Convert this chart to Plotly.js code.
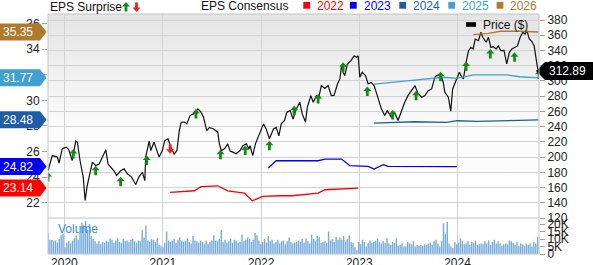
<!DOCTYPE html>
<html><head><meta charset="utf-8">
<script src="https://cdn.plot.ly/plotly-3.0.1.min.js"></script>
<style>html,body{margin:0;padding:0;background:#fff;}#chart{width:593px;height:265px;}</style>
</head><body><div id="chart"></div>
<script>
const priceDates = ["2019-11-01","2019-11-17","2019-12-06","2019-12-12","2019-12-24","2020-01-09","2020-01-18","2020-01-30","2020-02-12","2020-02-18",
"2020-02-28","2020-03-11","2020-03-18","2020-03-26","2020-04-14","2020-04-26","2020-05-09","2020-06-03","2020-06-11","2020-07-03",
"2020-07-13","2020-07-28","2020-08-10","2020-08-22","2020-09-06","2020-09-22","2020-10-04","2020-10-17","2020-10-26","2020-10-29",
"2020-11-11","2020-11-17","2020-11-29","2020-12-18","2020-12-30","2021-01-08","2021-01-20","2021-01-31","2021-02-12","2021-02-22",
"2021-03-03","2021-03-10","2021-03-22","2021-03-31","2021-04-12","2021-04-25","2021-05-11","2021-05-23","2021-06-01","2021-06-13",
"2021-06-23","2021-07-08","2021-07-24","2021-07-30","2021-08-06","2021-08-18","2021-08-30","2021-09-08","2021-09-18","2021-09-30",
"2021-10-15","2021-10-25","2021-11-07","2021-11-17","2021-11-21","2021-12-01","2021-12-11","2021-12-26","2022-01-10","2022-01-20",
"2022-02-01","2022-02-16","2022-02-26","2022-03-08","2022-03-17","2022-03-29","2022-04-07","2022-04-19","2022-04-30","2022-05-12",
"2022-05-25","2022-06-03","2022-06-15","2022-06-22","2022-07-05","2022-07-14","2022-07-26","2022-08-05","2022-08-13","2022-08-26",
"2022-09-07","2022-09-19","2022-09-29","2022-10-12","2022-10-21","2022-10-27","2022-11-02","2022-11-08","2022-11-18","2022-12-01",
"2022-12-13","2022-12-22","2022-12-28","2023-01-03","2023-01-12","2023-01-24","2023-02-03","2023-02-14","2023-02-25","2023-03-09",
"2023-03-24","2023-04-06","2023-04-15","2023-04-30","2023-05-12","2023-05-25","2023-06-06","2023-06-19","2023-07-01","2023-07-13",
"2023-07-27","2023-08-08","2023-08-21","2023-09-02","2023-09-14","2023-09-27","2023-10-09","2023-10-15","2023-10-30","2023-11-09",
"2023-11-15","2023-11-28","2023-12-07","2023-12-14","2023-12-23","2023-12-30","2024-01-08","2024-01-17","2024-01-23","2024-02-02",
"2024-02-11","2024-02-20","2024-02-28","2024-03-07","2024-03-19","2024-03-28","2024-04-04","2024-04-17","2024-04-25","2024-05-04",
"2024-05-13","2024-05-24","2024-06-01","2024-06-10","2024-06-22","2024-07-02","2024-07-12","2024-07-21","2024-08-02","2024-08-11",
"2024-08-21","2024-08-31","2024-09-08","2024-09-15","2024-09-24","2024-10-03","2024-10-12","2024-10-19","2024-10-25","2024-10-30"];
const priceValues = [182,202,200,192,211,213,209,195.5,221,219.6,
195.5,173.7,143,162.7,193.4,189,191,209.5,191,182,
175.8,182,184.6,178,174,164,174,180,169,200,
221,208.6,219.6,200,208.6,221.7,224,213,204,208.6,
234.8,245.8,246,243.6,254.5,256.7,263.3,259,252.4,234.8,
239,237,232.7,217.4,208.6,210.8,217.4,207.8,206.5,204.3,
208.6,215,217.4,210.8,215,202,217.4,230.5,243.6,237,
224,237,239,228,243.6,248,259,261,250,263.3,
272,256.7,246,265.5,280.7,272,280.7,281,293.8,290,
293.8,280.7,281,296,302.6,320,311.4,307,322.3,326.6,
333,331,333,305,311.4,307,296,298,293.8,280.7,
263.3,254.5,261,252.4,259,248,261,272,280.7,287.3,
293.8,283,278.6,280.7,287.3,289.5,304.9,307,309,298.3,
285,278.6,260.3,289.5,298.3,305,311.4,305,302.6,324.5,
339.7,344,342,355,352.8,363.9,357.3,350.8,357.3,344,
345,342,346,339.7,340,322.3,337.6,342,344,346,
357.3,363.9,361.6,366,355,352,346,331,316,312.89];
const lastPrice = 312.89;

const eps2022Dates = ["2021-01-28","2021-04-28","2021-05-23","2021-07-24","2021-08-30","2021-10-31","2021-11-29","2022-01-08","2022-03-10","2022-04-26","2022-08-01","2022-08-26","2022-12-28"];
const eps2022 = [22.81,22.93,23.25,23.32,22.93,22.75,22.15,22.49,22.54,22.54,22.75,23.01,23.14];
const eps2023Dates = ["2022-01-28","2022-02-26","2022-08-01","2022-08-26","2022-10-27","2022-11-27","2023-02-03","2023-02-25","2023-03-31","2023-04-18","2023-12-30"];
const eps2023 = [24.71,25.28,25.28,25.41,25.41,24.89,24.84,24.63,24.97,24.84,24.82];
const eps2024Dates = ["2023-02-25","2023-07-25","2023-11-22","2023-12-30","2024-03-13","2024-10-28"];
const eps2024 = [28.23,28.33,28.28,28.41,28.36,28.48];
const eps2025Dates = ["2023-02-25","2023-05-12","2023-07-25","2023-11-09","2023-12-30","2024-02-29","2024-07-02","2024-08-21","2024-10-28"];
const eps2025 = [31.28,31.46,31.59,31.81,31.73,31.99,31.99,31.85,31.77];
const eps2026Dates = ["2024-02-29","2024-04-25","2024-06-08","2024-08-21","2024-10-28"];
const eps2026 = [35.14,35.25,35.41,35.41,35.35];

const epsYears = ["2022","2023","2024","2025","2026"];
const epsFlagValues = [23.14,24.82,28.48,31.77,35.35];

const surpriseDates = ["2019-11-01","2020-02-03","2020-04-26","2020-07-28","2020-11-02","2021-01-28","2021-05-04","2021-08-03","2021-11-03","2022-02-01","2022-05-04","2022-08-01","2022-11-02","2023-01-31","2023-05-05","2023-07-31","2023-10-30","2024-02-02","2024-05-02","2024-07-31","2024-10-30"];
const surpriseY = [174,204,182,167.5,195.5,211,256.7,203,208.6,215,261,276.4,318,286,255.4,280.7,305.6,318.8,335.4,331,308];
const surpriseDir = ["up","up","up","up","up","down","up","up","up","up","up","up","up","up","up","up","up","up","up","up","up"];

const volumeStart = "2019-11-01";
const volumeK = [13.8,9.5,9.3,8.5,9.0,7.5,10,12.5,13.5,
4.5,7.5,8.5,7.0, 9,10.5,12.5,9.5, 14,21,19,22, 16,20,12,10,8.5, 7,8.5,6.5,8, 7.5,9,8,10.5,
9.5,7.5,9,10.5,8, 7.5,10,8.5,9, 8,9.5,10,8.5, 7.5,9,8.5,16,11, 19,9,8,10, 9.5,8,10.5,6,5.5,
4.5,7.5,15,9,8, 9,10,7.5,9.5, 11,8.5,8,9, 10.5,8,7,12,9, 8.5,7.5,9,8, 7,9,6.5,8,
9,12.5,9,8.5,10, 16,8,9.5,7.5, 8.5,10,7.5,9.5, 9,7.5,8,13,8.5, 9.5,11,10,8, 9.5,14,12.5,9,
6.5,8,10,7.5, 12,8.5,9.5,7, 8,9.5,7,8.5,9, 6.5,8.5,11,8, 7,7.5,8,9, 8,10,7.5,10.5,8.5,
7,13,10,8.5, 12,11.5,7.5,8, 8.5,7.5,15,9,10, 8,11.5,9.5,11, 9.5,12,8.5,10, 12.5,8,7.5,4.5,2.5,
8,6.5,9.5,8, 5,7.5,9,7.5, 8,9,10.5,8,7, 8.5,7.5,10.5,7, 6,8,7.5,10.5, 5.5,6,7,5,5,
8,7,6.5,8.5, 5,6,5.5,6, 5.5,6.5,6,7,7.5, 6,8.5,9.5,7, 5,8.5,20.5,13.5, 21.5,7,5,4,8,
6.5,7.5,10.5,8.5, 6.5,7,8.5,6, 8,7.5,9,6,6.5, 7,6.5,8.5,7, 9,6,8,9.5, 7,8.5,7,5.5,6.5,
7,6.5,9,8.5,7.5, 6,8,5.5,7, 6.5,5.5,7,6,7, 5,8,7,11.5];

const yearTicks = ["2020-01-01","2021-01-01","2022-01-01","2023-01-01","2024-01-01"];
const yearLabels = ["2020","2021","2022","2023","2024"];
const volTickVals = [0,5000,10000,15000,20000];
const volTickText = ["0","5K","10K","15K","20K"];

// ---------- styling ----------
const FONT = "Liberation Sans, Arial, Helvetica, sans-serif";
const epsColors = ["#ff0000","#0000ff","#1f5ca8","#3fa0d2","#b07a2e"];
const GRID = "#d2d2d2";
const W = 491, H = 240, L = 48, T = 14, VOLFRAC = 0.15;
const px2paperX = p => (p - L) / W;
const px2paperY = p => 1 - (p - T) / H;

const volDates = [];
{
  const d0 = new Date(volumeStart + "T00:00:00Z");
  for (let i = 0; i < volumeK.length; i++) {
    const d = new Date(d0.getTime() + i * 7 * 86400000);
    volDates.push(d.toISOString().slice(0, 10));
  }
}

const traces = [];
const epsSeries = [[eps2022Dates,eps2022],[eps2023Dates,eps2023],[eps2024Dates,eps2024],[eps2025Dates,eps2025],[eps2026Dates,eps2026]];
epsSeries.forEach((s, i) => traces.push({
  x: s[0], y: s[1], type: "scatter", mode: "lines", yaxis: "y2", xaxis: "x",
  line: {color: epsColors[i], width: 1.3}, hoverinfo: "skip", showlegend: false
}));
traces.push({x: priceDates, y: priceValues, type: "scatter", mode: "lines", xaxis: "x", yaxis: "y",
  line: {color: "#111", width: 1.2}, hoverinfo: "skip", showlegend: false});
traces.push({x: volDates, y: volumeK.map(v => v * 1000), type: "bar", xaxis: "x", yaxis: "y3",
  marker: {color: "#78acdc", line: {width: 0}}, hoverinfo: "skip", showlegend: false});

const shapes = [];
const annotations = [];
const UP = "M-4,0.5L0,5L4,0.5L1.4,0.5L1.4,-4.5L-1.4,-4.5L-1.4,0.5Z";
const DOWN = "M-4,-0.5L0,-5L4,-0.5L1.4,-0.5L1.4,4.5L-1.4,4.5L-1.4,-0.5Z";

surpriseDates.forEach((d, i) => shapes.push({
  type: "path", xref: "x", yref: "y", xsizemode: "pixel", ysizemode: "pixel",
  xanchor: d, yanchor: surpriseY[i], path: surpriseDir[i] === "up" ? UP : DOWN,
  fillcolor: surpriseDir[i] === "up" ? "#138a13" : "#ff1a1a", line: {width: 0}
}));

// left EPS flags
epsFlagValues.forEach((v, i) => {
  shapes.push({type: "path", xref: "paper", yref: "y2", xsizemode: "pixel", ysizemode: "pixel",
    xanchor: 0, yanchor: v, path: "M-48,8.5L-8,8.5L-1.5,0L-8,-8.5L-48,-8.5Z",
    fillcolor: epsColors[i], line: {width: 0}});
  annotations.push({xref: "paper", yref: "y2", x: 0, y: v, xshift: -30, xanchor: "center", yanchor: "middle",
    text: v.toFixed(2), showarrow: false, font: {family: FONT, size: 12, color: "#fff"}});
});
// right price flag
shapes.push({type: "path", xref: "paper", yref: "y", xsizemode: "pixel", ysizemode: "pixel",
  xanchor: 1, yanchor: lastPrice, path: "M-3,0L6,9L60,9L60,-9L6,-9Z", fillcolor: "#000", line: {width: 0}});
annotations.push({xref: "paper", yref: "y", x: 1, y: lastPrice, xshift: 28, xanchor: "center", yanchor: "middle",
  text: lastPrice.toFixed(2), showarrow: false, font: {family: FONT, size: 12, color: "#fff"}});

// frame
shapes.push({type: "rect", xref: "paper", yref: "paper", x0: 0, x1: 1, y0: 0, y1: 1, line: {color: "#c4c4c4", width: 1}, layer: "above"});
shapes.push({type: "line", xref: "paper", yref: "paper", x0: 0, x1: 1, y0: VOLFRAC, y1: VOLFRAC, line: {color: "#c4c4c4", width: 1}, layer: "above"});

// header legend
annotations.push({xref: "paper", yref: "paper", x: px2paperX(47.5), y: px2paperY(7), xanchor: "left", yanchor: "middle",
  text: "EPS Surprise", showarrow: false, font: {family: FONT, size: 12, color: "#111"}});
shapes.push({type: "path", xref: "paper", yref: "paper", xsizemode: "pixel", ysizemode: "pixel",
  xanchor: px2paperX(126), yanchor: px2paperY(7), path: UP, fillcolor: "#138a13", line: {width: 0}});
shapes.push({type: "path", xref: "paper", yref: "paper", xsizemode: "pixel", ysizemode: "pixel",
  xanchor: px2paperX(136.5), yanchor: px2paperY(7), path: DOWN, fillcolor: "#ff1a1a", line: {width: 0}});
annotations.push({xref: "paper", yref: "paper", x: px2paperX(198.5), y: px2paperY(6), xanchor: "left", yanchor: "middle",
  text: "EPS Consensus", showarrow: false, font: {family: FONT, size: 12, color: "#111"}});
const sqX = [306.7, 353.3, 402.7, 451.7, 500];
epsYears.forEach((yr, i) => {
  shapes.push({type: "rect", xref: "paper", yref: "paper", xsizemode: "pixel", ysizemode: "pixel",
    xanchor: px2paperX(sqX[i]), yanchor: px2paperY(5.3), x0: -3.4, x1: 3.4, y0: -3.4, y1: 3.4,
    fillcolor: epsColors[i], line: {width: 0}});
  annotations.push({xref: "paper", yref: "paper", x: px2paperX(sqX[i] + 8.3), y: px2paperY(6), xanchor: "left", yanchor: "middle",
    text: yr, showarrow: false, font: {family: FONT, size: 12, color: epsColors[i]}});
});
// price legend in plot
shapes.push({type: "rect", xref: "paper", yref: "paper", xsizemode: "pixel", ysizemode: "pixel",
  xanchor: px2paperX(471), yanchor: px2paperY(24.5), x0: -5, x1: 5, y0: -2.3, y1: 2.3,
  fillcolor: "#000", line: {width: 0}});
annotations.push({xref: "paper", yref: "paper", x: px2paperX(481), y: px2paperY(25), xanchor: "left", yanchor: "middle",
  text: "Price ($)", showarrow: false, font: {family: FONT, size: 12, color: "#111"}});
annotations.push({xref: "paper", yref: "paper", x: px2paperX(56), y: px2paperY(229), xanchor: "left", yanchor: "middle",
  text: "Volume", showarrow: false, font: {family: FONT, size: 12, color: "#3d8ed6"}});

const grad = '<svg xmlns="http://www.w3.org/2000/svg" width="10" height="100" preserveAspectRatio="none">' +
  '<defs><linearGradient id="g" x1="0" y1="0" x2="0" y2="1"><stop offset="0" stop-color="#e4e4e4"/>' +
  '<stop offset="0.55" stop-color="#fbfbfb"/><stop offset="1" stop-color="#ffffff"/></linearGradient></defs>' +
  '<rect width="10" height="100" fill="url(#g)"/></svg>';

const layout = {
  width: 593, height: 265,
  margin: {l: L, r: 593 - L - W, t: T, b: 265 - T - H, pad: 0},
  paper_bgcolor: "#ffffff", plot_bgcolor: "rgba(0,0,0,0)",
  font: {family: FONT, size: 12, color: "#222"},
  showlegend: false, bargap: 0.25,
  images: [{source: "data:image/svg+xml;charset=utf-8," + encodeURIComponent(grad),
    xref: "paper", yref: "paper", x: 0, y: 1, sizex: 1, sizey: 1 - VOLFRAC,
    sizing: "stretch", layer: "below", xanchor: "left", yanchor: "top"}],
  xaxis: {type: "date", range: ["2019-11-01", "2024-10-30"], anchor: "y3", domain: [0, 1],
    tickmode: "array", tickvals: yearTicks, ticktext: yearLabels, ticks: "", showline: false,
    showgrid: true, gridcolor: GRID, gridwidth: 1, zeroline: false, automargin: false,
    tickfont: {family: FONT, size: 12, color: "#222"}},
  yaxis: {domain: [VOLFRAC, 1], anchor: "x", side: "right", range: [120, 387.9],
    tickmode: "linear", tick0: 120, dtick: 20, showgrid: true, gridcolor: GRID, zeroline: false,
    ticks: "outside", ticklen: 5, tickcolor: "#a0a0a0", showline: false, automargin: false,
    tickfont: {family: FONT, size: 12, color: "#222"}},
  yaxis2: {overlaying: "y", side: "left", anchor: "x", range: [20.8, 36.76],
    tickmode: "linear", tick0: 22, dtick: 2, showgrid: false, zeroline: false,
    ticks: "outside", ticklen: 5, tickcolor: "#a0a0a0", showline: false, automargin: false,
    tickfont: {family: FONT, size: 12, color: "#222"}},
  yaxis3: {domain: [0, VOLFRAC], anchor: "x", side: "right", range: [0, 24000],
    tickmode: "array", tickvals: volTickVals, ticktext: volTickText, showgrid: false, zeroline: false,
    ticks: "outside", ticklen: 5, tickcolor: "#a0a0a0", showline: false, automargin: false,
    tickfont: {family: FONT, size: 12, color: "#222"}},
  shapes: shapes, annotations: annotations
};

Plotly.newPlot("chart", traces, layout, {staticPlot: true, displayModeBar: false});
</script>
</body></html>
